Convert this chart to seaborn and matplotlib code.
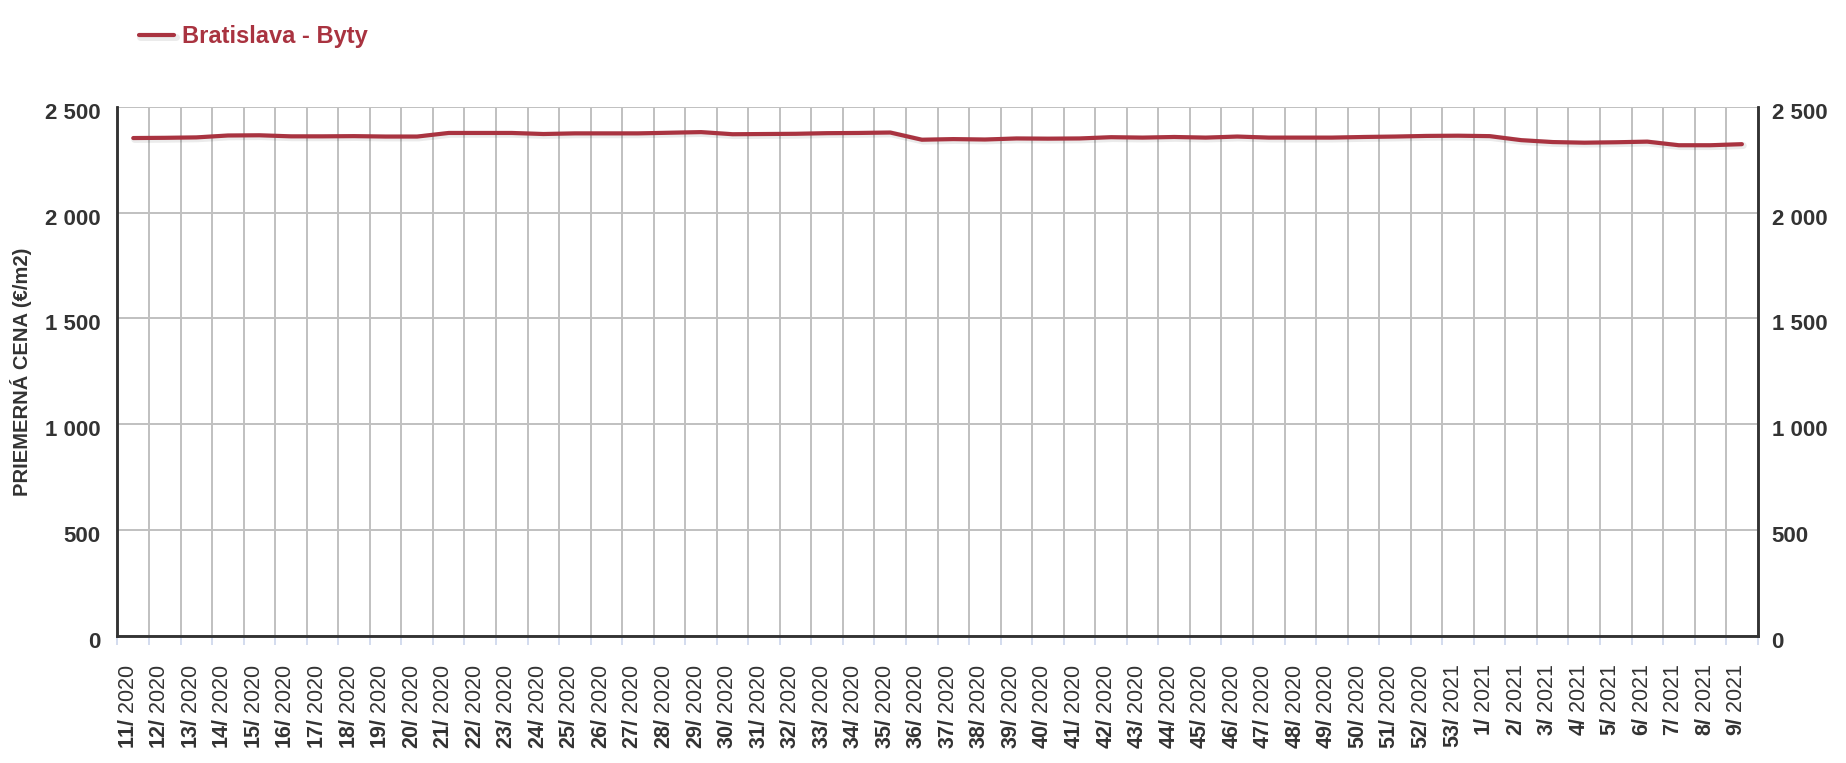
"""
Bratislava - Byty: priemerná cena za m2 po týždňoch
"""
import pandas as pd
import seaborn as sns
import matplotlib.pyplot as plt
import matplotlib.patheffects as pe
from matplotlib.ticker import FixedLocator, FuncFormatter
from matplotlib.transforms import ScaledTranslation

#######################################################################################
# Data
week_numbers = [11, 12, 13, 14, 15, 16, 17, 18, 19, 20,
                21, 22, 23, 24, 25, 26, 27, 28, 29, 30,
                31, 32, 33, 34, 35, 36, 37, 38, 39, 40,
                41, 42, 43, 44, 45, 46, 47, 48, 49, 50,
                51, 52, 53, 1, 2, 3, 4, 5, 6, 7, 8, 9]
week_years = [2020] * 42 + [2021] * 10
prices = [2352, 2353, 2355, 2364, 2365, 2360, 2360, 2361, 2359, 2359,
          2376, 2376, 2376, 2371, 2374, 2374, 2374, 2377, 2380, 2370,
          2371, 2372, 2375, 2376, 2378, 2344, 2347, 2345, 2350, 2349,
          2350, 2356, 2354, 2357, 2354, 2359, 2354, 2354, 2354, 2357,
          2359, 2362, 2363, 2361, 2342, 2333, 2330, 2332, 2335, 2318,
          2318, 2323]
y_ticks = [0, 500, 1000, 1500, 2000, 2500]
series_name = 'Bratislava - Byty'
y_title = 'PRIEMERNÁ CENA (€/m2)'

df = pd.DataFrame({'tyzden': [f'{w}/ {y}' for w, y in zip(week_numbers, week_years)],
                   'cena': prices})

#######################################################################################
# Plot
plt.rcParams['font.family'] = ['Liberation Sans', 'DejaVu Sans']
plt.rcParams['mathtext.fontset'] = 'custom'
plt.rcParams['mathtext.rm'] = 'Liberation Sans'
plt.rcParams['mathtext.bf'] = 'Liberation Sans:bold'

line_color = '#a93340'
text_color = '#333333'
grid_color = '#c0c0c0'

fig = plt.figure(figsize=(18.46, 7.63), dpi=100)
ax = fig.add_axes([0.06365, 0.16645, 0.8885, 0.6937])

sns.lineplot(data=df, x='tyzden', y='cena', ax=ax, color=line_color, linewidth=3,
             label=series_name, solid_capstyle='round', solid_joinstyle='round',
             path_effects=[pe.SimpleLineShadow(offset=(1, -1), shadow_color='black',
                                               alpha=0.08, linewidth=5),
                           pe.Normal()])

n = len(df)
ax.set_xlim(-0.5, n - 0.5)
ax.set_ylim(0, 2500)

# category labels: bold week number, regular year
labels = [rf'$\mathbf{{{w}/}}$ {y}' for w, y in zip(week_numbers, week_years)]
ax.set_xticks(range(n), labels, rotation=90, fontsize=15.5, color=text_color,
              va='top', ha='center')
ax.tick_params(axis='x', which='major', length=0, pad=20)
shift_x = ScaledTranslation(-5 / 100, 0, fig.dpi_scale_trans)
for lab in ax.get_xticklabels():
    lab.set_transform(lab.get_transform() + shift_x)
ax.xaxis.set_minor_locator(FixedLocator([i - 0.5 for i in range(n + 1)]))
ax.tick_params(axis='x', which='minor', length=6.5, width=1.2, color='#ccd6eb')
ax.grid(axis='x', which='minor', color=grid_color, linewidth=1.4)

fmt = FuncFormatter(lambda v, _: f'{v:,.0f}'.replace(',', ' '))
shift_y = ScaledTranslation(0, -4 / 100, fig.dpi_scale_trans)

ax.set_yticks(y_ticks)
ax.yaxis.set_major_formatter(fmt)
ax.tick_params(axis='y', length=0, pad=12, labelsize=16, labelcolor=text_color)
ax.grid(axis='y', which='major', color=grid_color, linewidth=1.4)
ax.set_axisbelow(True)

ax2 = ax.twinx()
ax2.set_ylim(ax.get_ylim())
ax2.set_yticks(y_ticks)
ax2.yaxis.set_major_formatter(fmt)
ax2.tick_params(axis='y', length=0, pad=10, labelsize=16, labelcolor=text_color)

for a in (ax, ax2):
    for lab in a.get_yticklabels():
        lab.set_fontweight('bold')
        lab.set_transform(lab.get_transform() + shift_y)
    a.spines['top'].set_visible(False)
    for s in ('left', 'right', 'bottom'):
        a.spines[s].set_color(text_color)
        a.spines[s].set_linewidth(1.8)

ax.set_xlabel('')
ax.set_ylabel(y_title, fontsize=14.5, fontweight='bold', color=text_color)
ax.yaxis.set_label_coords(-0.052, 0.5)

ax.legend(loc='center left', bbox_to_anchor=(139 / 1846, 1 - 37 / 763),
          bbox_transform=fig.transFigure, frameon=False, borderpad=0,
          borderaxespad=0, handlelength=1.5, handletextpad=0.3,
          prop={'size': 17, 'weight': 'bold'}, labelcolor='linecolor')

plt.savefig('out.png', dpi=100)
